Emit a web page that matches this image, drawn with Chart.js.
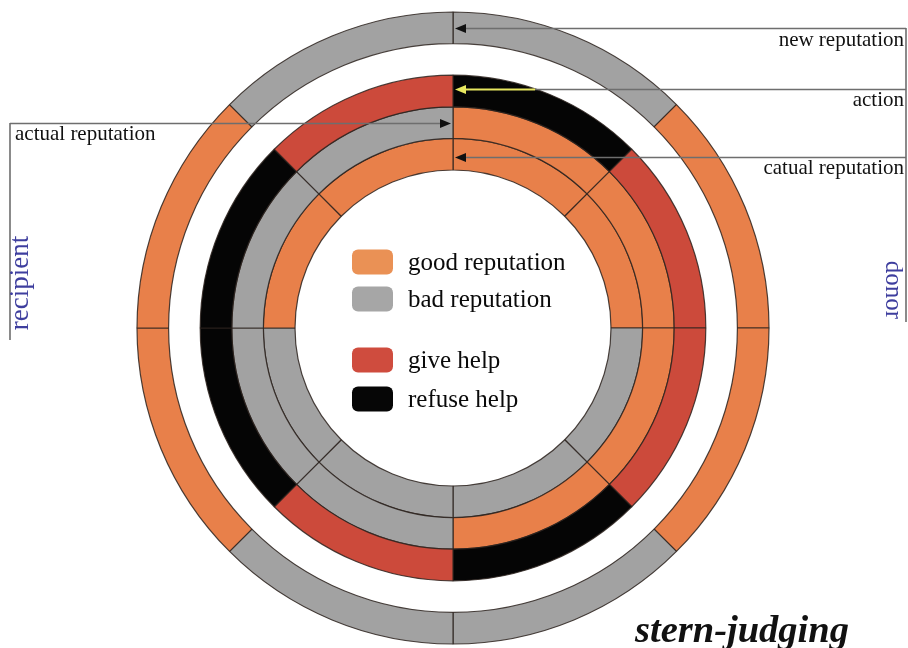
<!DOCTYPE html>
<html>
<head>
<meta charset="utf-8">
<script src="https://cdn.jsdelivr.net/npm/chart.js@4.4.1/dist/chart.umd.min.js"></script>
<style>
  html, body { margin: 0; padding: 0; background: #fff; }
  #wrap { position: relative; width: 908px; height: 648px; }
  canvas { display: block; }
</style>
</head>
<body>
<div id="wrap"><canvas id="chart" width="908" height="648"></canvas></div>
<script>
// eight 45° sectors, clockwise from 12 o'clock
const sectors = ['S1', 'S2', 'S3', 'S4', 'S5', 'S6', 'S7', 'S8'];
const sectorShare = [1, 1, 1, 1, 1, 1, 1, 1];

// ring states, outer ring first
const newReputation    = ['bad', 'good', 'good', 'bad', 'bad', 'good', 'good', 'bad'];
const actionTaken      = ['refuse', 'give', 'give', 'refuse', 'give', 'refuse', 'refuse', 'give'];
const actualReputation = ['good', 'good', 'good', 'good', 'bad', 'bad', 'bad', 'bad'];
const catualReputation = ['good', 'good', 'bad', 'bad', 'bad', 'bad', 'good', 'good'];

const ringLabels = ['new reputation', 'action', 'actual reputation', 'catual reputation'];
const legendLabels = ['good reputation', 'bad reputation', 'give help', 'refuse help'];
const legendKeys = ['good', 'bad', 'give', 'refuse'];

const colors = {
  good: '#E8804A',
  bad: '#A2A2A2',
  give: '#CC4A3B',
  refuse: '#050505'
};
const legendColors = {
  good: '#EA9155',
  bad: '#A6A6A6',
  give: '#CF4C3E',
  refuse: '#060606'
};

const EDGE = 'rgba(45,35,30,0.85)';
const SERIF = '"Liberation Serif", "DejaVu Serif", serif';
const BLUE = '#3E3E9E';

function ring(label, states) {
  return {
    label,
    data: sectorShare,
    backgroundColor: states.map(s => colors[s]),
    borderColor: EDGE,
    borderWidth: 1.2,
    borderAlign: 'center'
  };
}

function arrow(ctx, x, y, dir, color) {
  // dir: -1 points left, 1 points right
  ctx.fillStyle = color;
  ctx.beginPath();
  ctx.moveTo(x, y);
  ctx.lineTo(x - dir * 11, y - 4.5);
  ctx.lineTo(x - dir * 11, y + 4.5);
  ctx.closePath();
  ctx.fill();
}

const annotations = {
  id: 'annotations',
  afterDraw(chart) {
    const ctx = chart.ctx;
    const arcOf = i => chart.getDatasetMeta(i).data[0];
    const c = arcOf(0);
    const cx = c.x, cy = c.y;
    const mid = i => { const a = arcOf(i); return Math.round(cy - (a.innerRadius + a.outerRadius) / 2); };

    const yNew = mid(0), yAct = mid(2) - 2, yActual = mid(3), yCatual = mid(4) + 3;
    const rightX = 906, leftX = 10;

    ctx.save();
    ctx.lineWidth = 1.6;
    ctx.strokeStyle = '#6e6e6e';

    // right-hand bracket (donor side)
    ctx.beginPath();
    ctx.moveTo(cx + 8, yNew + 0.5); ctx.lineTo(rightX, yNew + 0.5);
    ctx.moveTo(535, yAct + 0.5); ctx.lineTo(rightX, yAct + 0.5);
    ctx.moveTo(cx + 8, yCatual + 0.5); ctx.lineTo(rightX, yCatual + 0.5);
    ctx.moveTo(rightX, yNew); ctx.lineTo(rightX, 322);
    ctx.stroke();

    // left-hand bracket (recipient side)
    ctx.beginPath();
    ctx.moveTo(leftX, yActual + 0.5); ctx.lineTo(cx - 10, yActual + 0.5);
    ctx.moveTo(leftX, yActual); ctx.lineTo(leftX, 340);
    ctx.stroke();

    // yellow action arrow
    ctx.strokeStyle = '#E8E860';
    ctx.lineWidth = 2;
    ctx.beginPath();
    ctx.moveTo(cx + 8, yAct + 0.5); ctx.lineTo(535, yAct + 0.5);
    ctx.stroke();

    arrow(ctx, cx + 2, yNew + 0.5, -1, '#111');
    arrow(ctx, cx + 2, yAct + 0.5, -1, '#E8E860');
    arrow(ctx, cx - 2, yActual + 0.5, 1, '#111');
    arrow(ctx, cx + 2, yCatual + 0.5, -1, '#111');

    // ring labels
    ctx.fillStyle = '#111';
    ctx.font = '21px ' + SERIF;
    ctx.textBaseline = 'alphabetic';
    ctx.textAlign = 'right';
    ctx.fillText(ringLabels[0], 904, yNew + 18);
    ctx.fillText(ringLabels[1], 904, yAct + 17);
    ctx.fillText(ringLabels[3], 904, yCatual + 17);
    ctx.textAlign = 'left';
    ctx.fillText(ringLabels[2], 15, yActual + 17);

    // side titles
    ctx.fillStyle = BLUE;
    ctx.textAlign = 'center';
    ctx.textBaseline = 'middle';
    ctx.save();
    ctx.font = '27px ' + SERIF;
    ctx.translate(21, 283);
    ctx.rotate(-Math.PI / 2);
    ctx.fillText('recipient', 0, 0);
    ctx.restore();
    ctx.save();
    ctx.font = '25px ' + SERIF;
    ctx.translate(893, 290);
    ctx.rotate(Math.PI / 2);
    ctx.fillText('donor', 0, 0);
    ctx.restore();

    // legend in the hole
    const rows = [262, 299, 360, 399];
    legendKeys.forEach((k, i) => {
      ctx.fillStyle = legendColors[k];
      ctx.beginPath();
      ctx.roundRect(352, rows[i] - 12.5, 41, 25, 6);
      ctx.fill();
      ctx.fillStyle = '#0a0a0a';
      ctx.font = '25px ' + SERIF;
      ctx.textAlign = 'left';
      ctx.textBaseline = 'middle';
      ctx.fillText(legendLabels[i], 408, rows[i] + 1);
    });

    // title
    ctx.fillStyle = '#111';
    ctx.font = 'italic bold 38.5px ' + SERIF;
    ctx.textAlign = 'left';
    ctx.textBaseline = 'alphabetic';
    ctx.fillText('stern-judging', 635, 642);
    ctx.restore();
  }
};

new Chart(document.getElementById('chart'), {
  type: 'doughnut',
  data: {
    labels: sectors,
    datasets: [
      ring(ringLabels[0], newReputation),
      { label: 'gap', data: sectorShare, backgroundColor: 'rgba(0,0,0,0)', borderWidth: 0 },
      ring(ringLabels[1], actionTaken),
      ring(ringLabels[2], actualReputation),
      ring(ringLabels[3], catualReputation)
    ]
  },
  options: {
    responsive: false,
    devicePixelRatio: 1,
    animation: false,
    radius: 316,
    cutout: '50%',
    layout: { padding: { top: 8, right: 2 } },
    plugins: {
      legend: { display: false },
      tooltip: { enabled: false }
    }
  },
  plugins: [annotations]
});
</script>
</body>
</html>
